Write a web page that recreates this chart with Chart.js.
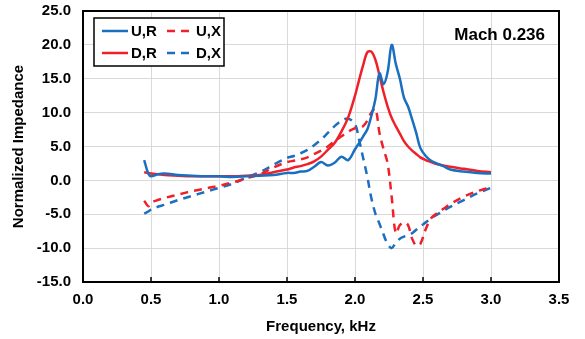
<!DOCTYPE html>
<html>
<head>
<meta charset="utf-8">
<script src="https://cdn.jsdelivr.net/npm/chart.js@4"></script>
<style>
  html, body { margin: 0; padding: 0; background: #fff; }
</style>
</head>
<body>
<canvas id="impedanceChart" width="585" height="339"></canvas>
<script>
// Frequency grid, kHz
const freq = [0.45, 0.48, 0.5, 0.55, 0.6, 0.7, 0.8, 0.9, 1.0, 1.1, 1.2, 1.3, 1.4, 1.5, 1.55, 1.6, 1.65, 1.7, 1.75, 1.8,
              1.85, 1.9, 1.95, 2.0, 2.03, 2.06, 2.09, 2.12, 2.15, 2.18, 2.21, 2.24, 2.27, 2.3, 2.33, 2.36, 2.39, 2.42,
              2.45, 2.48, 2.52, 2.56, 2.6, 2.65, 2.7, 2.8, 2.9, 3.0];

// Normalized impedance values, one per frequency
const upR = [3.0, 1.0, 0.6, 0.9, 1.0, 0.8, 0.7, 0.6, 0.6, 0.5, 0.6, 0.7, 0.8, 1.1, 1.1, 1.3, 1.4, 2.0, 2.7, 2.2,
             2.6, 3.5, 3.0, 4.6, 5.5, 6.5, 7.5, 9.5, 12.0, 15.8, 14.2, 16.0, 20.0, 17.2, 15.0, 12.2, 10.9, 9.0,
             7.0, 4.8, 3.6, 2.9, 2.5, 2.1, 1.6, 1.3, 1.1, 1.0];
const upX = [-3.0, -3.8, -3.3, -2.9, -2.6, -2.1, -1.6, -1.2, -0.8, -0.3, 0.3, 0.9, 1.9, 2.7, 2.9, 3.1, 3.4, 3.9, 4.4, 5.0,
             5.8, 6.5, 7.2, 7.7, 7.7, 8.0, 8.8, 10.0, 10.6, 7.0, 4.6, 2.5, -2.5, -7.8, -6.6, -6.2, -6.6, -8.6,
             -9.6, -9.4, -7.2, -5.6, -4.9, -4.2, -3.5, -2.4, -1.6, -1.0];
const downR = [1.2, 1.1, 1.0, 0.9, 0.8, 0.7, 0.6, 0.6, 0.6, 0.6, 0.7, 0.8, 1.2, 1.6, 1.9, 2.1, 2.4, 2.8, 3.5, 4.5,
               5.5, 7.2, 9.3, 12.5, 14.8, 17.0, 18.9, 19.0, 17.8, 15.5, 13.0, 10.9, 9.2, 8.0, 6.9, 5.8, 5.0, 4.4,
               3.9, 3.4, 3.0, 2.7, 2.4, 2.2, 2.0, 1.7, 1.4, 1.2];
const downX = [-4.9, -4.6, -4.3, -3.9, -3.6, -2.9, -2.3, -1.7, -1.1, -0.5, 0.4, 1.2, 2.3, 3.3, 3.6, 4.0, 4.5, 5.2, 6.0, 7.0,
               8.0, 8.8, 9.1, 8.3, 6.0, 3.3, 0.6, -2.6, -4.9, -6.4, -8.0, -9.4, -10.0, -9.2, -8.6, -8.3, -8.1, -7.8,
               -7.3, -6.8, -6.2, -5.6, -5.1, -4.5, -3.9, -2.9, -1.9, -1.1];

const seriesNames = ['U,R', 'U,X', 'D,R', 'D,X'];
const xTicks = [0.0, 0.5, 1.0, 1.5, 2.0, 2.5, 3.0, 3.5];
const yTicks = [-15, -10, -5, 0, 5, 10, 15, 20, 25];
const caseLabel = 'Mach 0.236';

const BLUE = '#1b6fc0';
const RED = '#f0202a';
const DASH = [8, 6];

function toPoints(values) {
    return values.map((v, i) => ({ x: freq[i], y: v }));
}

function makeSet(label, values, color, dashed) {
    return {
        label: label,
        data: toPoints(values),
        borderColor: color,
        backgroundColor: color,
        borderWidth: 2.5,
        borderDash: dashed ? DASH : [],
        pointRadius: 0,
        tension: 0.35,
        fill: false
    };
}

// Frame, inward ticks, boxed legend and case label
const framePlugin = {
    id: 'frame',
    afterDraw(chart) {
        const { ctx, chartArea: a, scales } = chart;
        ctx.save();

        ctx.strokeStyle = '#000';
        ctx.lineWidth = 1.5;
        xTicks.forEach(t => {
            const px = scales.x.getPixelForValue(t);
            ctx.beginPath();
            ctx.moveTo(px, a.bottom);
            ctx.lineTo(px, a.bottom - 5);
            ctx.stroke();
        });

        ctx.lineWidth = 2;
        ctx.strokeRect(a.left, a.top, a.right - a.left, a.bottom - a.top);

        // legend box
        const bx = 94, by = 18, bw = 130, bh = 48;
        ctx.fillStyle = '#fff';
        ctx.fillRect(bx, by, bw, bh);
        ctx.lineWidth = 1.5;
        ctx.strokeStyle = '#000';
        ctx.strokeRect(bx, by, bw, bh);

        const cells = [
            { x: 102, y: 31 }, { x: 167, y: 31 },
            { x: 102, y: 53 }, { x: 167, y: 53 }
        ];
        ctx.font = 'bold 15px "Liberation Sans", Arial, sans-serif';
        ctx.textBaseline = 'middle';
        ctx.textAlign = 'left';
        chart.data.datasets.forEach((ds, k) => {
            const c = cells[k];
            ctx.strokeStyle = ds.borderColor;
            ctx.lineWidth = 2.5;
            ctx.setLineDash(ds.borderDash);
            ctx.beginPath();
            ctx.moveTo(c.x, c.y);
            ctx.lineTo(c.x + 26, c.y);
            ctx.stroke();
            ctx.setLineDash([]);
            ctx.fillStyle = '#000';
            ctx.fillText(ds.label, c.x + 29, c.y + 1);
        });

        ctx.font = 'bold 17px "Liberation Sans", Arial, sans-serif';
        ctx.textAlign = 'right';
        ctx.fillText(caseLabel, 545, 35);
        ctx.restore();
    }
};

const ctx = document.getElementById('impedanceChart').getContext('2d');
const impedanceChart = new Chart(ctx, {
    type: 'line',
    data: {
        datasets: [
            makeSet(seriesNames[0], upR, BLUE, false),
            makeSet(seriesNames[1], upX, RED, true),
            makeSet(seriesNames[2], downR, RED, false),
            makeSet(seriesNames[3], downX, BLUE, true)
        ]
    },
    options: {
        responsive: false,
        animation: false,
        devicePixelRatio: 1,
        layout: { padding: { left: 0, right: 26, top: 11, bottom: 0 } },
        plugins: {
            legend: { display: false },
            tooltip: { enabled: false }
        },
        scales: {
            x: {
                type: 'linear',
                min: 0,
                max: 3.5,
                afterFit: s => { s.height = 57; },
                afterBuildTicks: s => { s.ticks = xTicks.map(v => ({ value: v })); },
                ticks: {
                    color: '#000',
                    padding: 9,
                    font: { family: '"Liberation Sans", Arial, sans-serif', size: 15, weight: 'bold' },
                    callback: v => Number(v).toFixed(1)
                },
                grid: { color: '#d9d9d9', lineWidth: 1, drawTicks: false },
                border: { display: false },
                title: {
                    display: true,
                    text: 'Frequency, kHz',
                    color: '#000',
                    font: { family: '"Liberation Sans", Arial, sans-serif', size: 15, weight: 'bold' },
                    padding: { top: 3, bottom: 3 }
                }
            },
            y: {
                min: -15,
                max: 25,
                // keep the plot top where the reference has it; label overflow is handled by padding
                afterFit: s => { s.width = 83; s.paddingTop = 0; s.paddingBottom = 0; },
                afterBuildTicks: s => { s.ticks = yTicks.map(v => ({ value: v })); },
                ticks: {
                    color: '#000',
                    padding: 12,
                    font: { family: '"Liberation Sans", Arial, sans-serif', size: 15, weight: 'bold' },
                    callback: v => Number(v).toFixed(1)
                },
                grid: { color: '#d9d9d9', lineWidth: 1, drawTicks: false },
                border: { display: false },
                title: {
                    display: true,
                    text: 'Normalized Impedance',
                    color: '#000',
                    font: { family: '"Liberation Sans", Arial, sans-serif', size: 15, weight: 'bold' },
                    padding: { top: 10, bottom: 0 }
                }
            }
        }
    },
    plugins: [framePlugin]
});
</script>
</body>
</html>
